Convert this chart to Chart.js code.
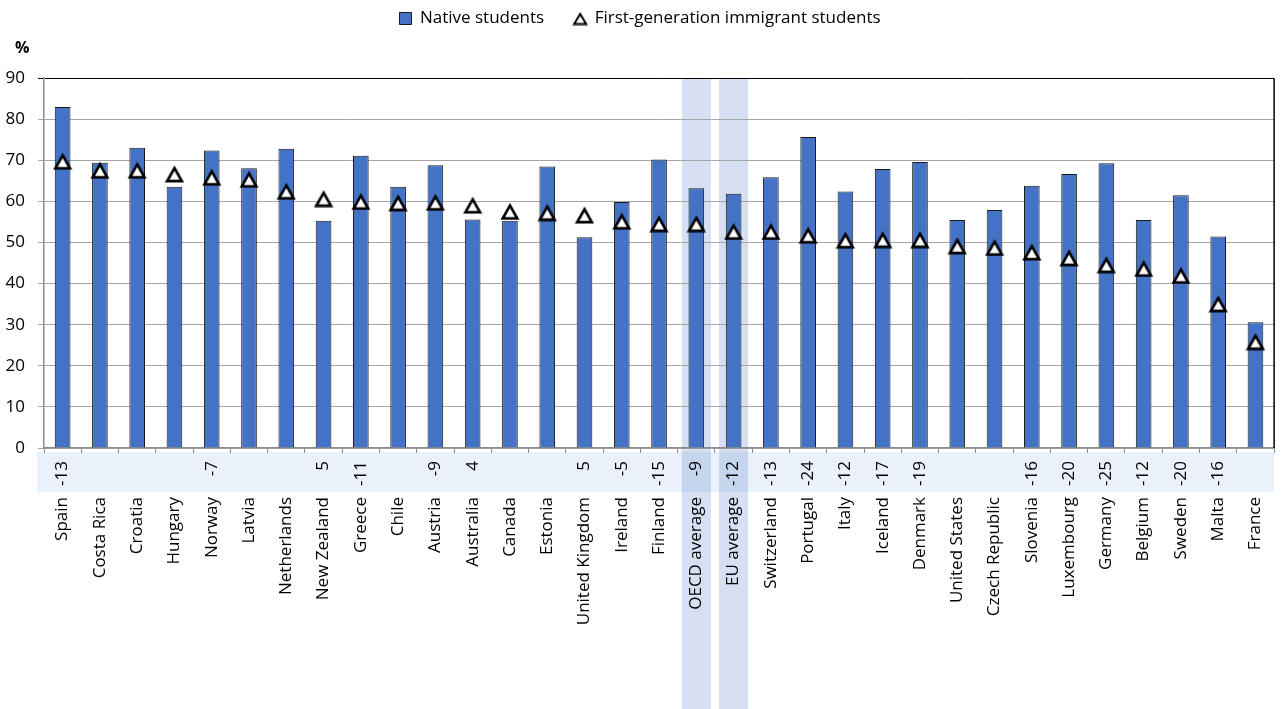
<!DOCTYPE html>
<html>
<head>
<meta charset="utf-8">
<script src="https://cdn.jsdelivr.net/npm/chart.js@4.4.0/dist/chart.umd.min.js"></script>
<style>
  body { margin: 0; background: #fff; }
  #wrap { width: 1284px; height: 709px; }
</style>
</head>
<body>
<div id="wrap"><canvas id="chart" width="1284" height="709"></canvas></div>
<script>
const categories = ['Spain', 'Costa Rica', 'Croatia', 'Hungary', 'Norway', 'Latvia', 'Netherlands', 'New Zealand',
    'Greece', 'Chile', 'Austria', 'Australia', 'Canada', 'Estonia', 'United Kingdom', 'Ireland', 'Finland',
    'OECD average', 'EU average', 'Switzerland', 'Portugal', 'Italy', 'Iceland', 'Denmark', 'United States',
    'Czech Republic', 'Slovenia', 'Luxembourg', 'Germany', 'Belgium', 'Sweden', 'Malta', 'France'];

const nativeStudents = [83.0, 69.4, 73.1, 63.6, 72.4, 68.1, 72.8, 55.3, 71.1, 63.6, 68.8, 55.6, 55.3, 68.5,
    51.3, 59.9, 70.2, 63.2, 61.9, 65.9, 75.7, 62.4, 67.9, 69.6, 55.5, 57.9, 63.8, 66.7, 69.3, 55.5, 61.5, 51.5, 30.6];

const immigrantStudents = [69.8, 67.6, 67.6, 66.7, 65.9, 65.4, 62.5, 60.7, 60.0, 59.7, 59.8, 59.1, 57.6, 57.3,
    56.7, 55.2, 54.6, 54.6, 52.7, 52.7, 51.8, 50.6, 50.7, 50.7, 49.2, 48.8, 47.7, 46.3, 44.6, 43.7, 42.0, 35.1, 25.9];

// gap (immigrant - native), shown only where significant
const differenceLabels = ['-13', '', '', '', '-7', '', '', '5', '-11', '', '-9', '4', '', '', '5', '-5', '-15',
    '-9', '-12', '-13', '-24', '-12', '-17', '-19', '', '', '-16', '-20', '-25', '-12', '-20', '-16', ''];

const averageColumns = ['OECD average', 'EU average'];
const unitLabel = '%';

Chart.defaults.font.family = "'Open Sans', sans-serif";
Chart.defaults.color = '#000';

// white triangle with black outline, used as a point image
function makeTriangle(w, h, lw) {
    const c = document.createElement('canvas');
    c.width = w;
    c.height = h;
    const g = c.getContext('2d');
    g.lineWidth = lw;
    g.lineJoin = 'miter';
    g.beginPath();
    g.moveTo(w / 2, lw + 0.5);
    g.lineTo(w - lw, h - lw / 2 - 0.5);
    g.lineTo(lw, h - lw / 2 - 0.5);
    g.closePath();
    g.fillStyle = '#fff';
    g.fill();
    g.strokeStyle = '#000';
    g.stroke();
    return c;
}

const pointTriangle = makeTriangle(20, 18, 2.7);
const legendTriangle = makeTriangle(16, 14, 2);

const backdrop = {
    id: 'backdrop',
    beforeDraw(chart) {
        const { ctx, chartArea, scales } = chart;
        const x = scales.x;
        const d = scales.diff;
        ctx.save();
        // band behind the difference row
        ctx.fillStyle = '#eaf1fa';
        ctx.fillRect(chartArea.left - 7, d.top + 4, chartArea.right - chartArea.left + 7, d.bottom - d.top - 4);
        // highlight the averages
        const step = x.getPixelForValue(1) - x.getPixelForValue(0);
        ctx.fillStyle = 'rgba(68, 114, 196, 0.22)';
        averageColumns.forEach(name => {
            const cx = x.getPixelForValue(categories.indexOf(name));
            ctx.fillRect(cx - step * 0.39, chartArea.top, step * 0.78, chart.height - chartArea.top);
        });
        ctx.restore();
    },
    afterDraw(chart) {
        const { ctx, chartArea } = chart;
        ctx.save();
        // right-hand frame line
        ctx.strokeStyle = '#000';
        ctx.lineWidth = 1.5;
        ctx.beginPath();
        ctx.moveTo(chartArea.right, chartArea.top);
        ctx.lineTo(chartArea.right, chartArea.bottom);
        ctx.stroke();
        // unit above the value axis
        ctx.fillStyle = '#000';
        ctx.font = "bold 16px 'Open Sans', sans-serif";
        ctx.textAlign = 'left';
        ctx.textBaseline = 'middle';
        ctx.fillText(unitLabel, chartArea.left - 29, chartArea.top - 30);
        ctx.restore();
    }
};

const ctx = document.getElementById('chart').getContext('2d');
new Chart(ctx, {
    data: {
        labels: categories,
        datasets: [
            {
                type: 'line',
                label: 'First-generation immigrant students',
                data: immigrantStudents,
                showLine: false,
                pointStyle: pointTriangle,
                pointRadius: 8,
                xAxisID: 'x',
                order: 0
            },
            {
                type: 'bar',
                label: 'Native students',
                data: nativeStudents,
                backgroundColor: '#4472c4',
                borderColor: '#1a1a1a',
                borderWidth: 1,
                categoryPercentage: 1,
                barPercentage: 0.42,
                xAxisID: 'x',
                order: 1
            }
        ]
    },
    options: {
        responsive: false,
        animation: false,
        layout: { padding: { left: 0, right: 4, top: -20, bottom: 0 } },
        plugins: {
            legend: {
                position: 'top',
                labels: {
                    usePointStyle: true,
                    boxWidth: 12,
                    boxHeight: 12,
                    padding: 30,
                    font: { size: 17 },
                    color: '#000',
                    generateLabels: () => [
                        { text: 'Native students', fillStyle: '#4472c4', strokeStyle: '#1a1a1a', lineWidth: 1,
                          pointStyle: 'rect', datasetIndex: 1, hidden: false },
                        { text: 'First-generation immigrant students', pointStyle: legendTriangle,
                          datasetIndex: 0, hidden: false, lineWidth: 0 }
                    ]
                }
            },
            // empty block that keeps room for the unit label between legend and plot
            title: {
                display: true,
                text: '',
                weight: 500,
                font: { size: 16 },
                padding: { top: 11, bottom: 11 }
            },
            tooltip: { enabled: false }
        },
        scales: {
            y: {
                min: 0,
                max: 90,
                ticks: { stepSize: 10, font: { size: 17 }, color: '#000', padding: 13 },
                grid: {
                    color: c => c.tick && c.tick.value === 90 ? '#000' : '#a6a6a6',
                    tickLength: 6
                },
                border: { color: '#8c8c8c', width: 1.5 },
                afterFit: s => { s.width = 44; }
            },
            diff: {
                type: 'category',
                labels: differenceLabels,
                position: 'bottom',
                weight: 1,
                offset: true,
                grid: { offset: true, drawOnChartArea: false, tickLength: 5, color: '#8c8c8c' },
                border: { color: '#8c8c8c', width: 1.5 },
                ticks: { autoSkip: false, minRotation: 90, maxRotation: 90, padding: 8, font: { size: 17 }, color: '#000' },
                afterFit: s => { s.height = 44; }
            },
            x: {
                type: 'category',
                position: 'bottom',
                weight: 2,
                offset: true,
                grid: { display: false, drawTicks: false },
                border: { display: false },
                ticks: { autoSkip: false, minRotation: 90, maxRotation: 90, padding: 5, font: { size: 17 }, color: '#000' },
                afterFit: s => { s.height = 217; }
            }
        }
    },
    plugins: [backdrop]
});
</script>
</body>
</html>
